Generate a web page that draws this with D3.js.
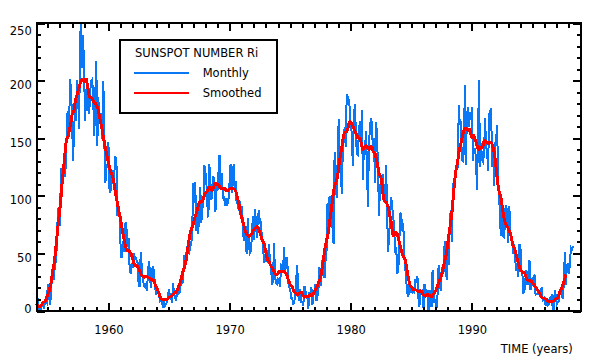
<!DOCTYPE html>
<html><head><meta charset="utf-8">
<script src="https://cdn.jsdelivr.net/npm/d3@7"></script>
<style>
html,body{margin:0;padding:0;background:#fff;}
svg{display:block;}
</style></head><body>
<svg id="chart" width="600" height="360"></svg>
<script>
// ---------- DATA ----------
const startYear = 1954;            // first monthly value = Jan 1954
const monthly = [
0.2,0.5,10.9,1.8,0.8,0.2,4.8,8.4,1.5,7.0,9.2,7.6,
23.1,20.8,4.9,11.3,28.9,31.7,26.7,40.7,42.7,58.5,89.2,76.9,
73.6,124.0,118.4,110.7,136.6,116.6,129.1,169.6,173.2,155.3,201.3,192.1,
165.0,130.2,157.4,175.2,164.6,200.7,187.2,158.0,235.8,253.8,210.9,239.4,
202.5,164.9,190.7,196.0,175.3,171.5,191.4,200.2,201.2,181.5,152.3,187.6,
217.4,143.1,185.7,163.3,172.0,168.7,149.6,199.6,145.2,111.4,124.0,125.0,
146.3,106.0,102.2,122.0,119.6,110.2,121.7,134.1,127.2,82.8,89.6,85.6,
57.9,46.1,53.0,61.4,51.0,77.4,70.2,55.9,63.6,37.7,32.6,39.9,
38.7,50.3,45.6,46.4,43.7,42.0,21.8,21.8,51.3,39.5,26.9,23.2,
19.8,24.4,17.1,29.3,43.0,35.9,19.6,33.2,38.8,35.3,23.4,14.9,
15.3,17.7,16.5,8.6,9.5,9.1,3.1,9.3,4.7,6.1,7.4,15.1,
17.5,14.2,11.7,6.8,24.1,15.9,11.9,8.9,16.8,20.1,15.8,17.0,
28.2,24.4,25.3,48.7,45.3,47.7,56.7,51.2,50.2,57.2,57.2,70.4,
110.9,93.6,111.8,69.5,86.5,67.3,91.5,107.2,76.8,88.2,94.3,126.4,
121.8,111.9,92.2,81.2,127.2,110.3,96.1,109.3,117.2,107.7,86.0,109.8,
104.4,120.5,135.8,106.8,120.0,106.0,96.8,98.0,91.3,95.7,93.5,97.9,
111.5,127.8,102.9,109.5,127.5,106.8,112.5,93.0,99.5,86.6,95.2,83.5,
91.3,79.0,60.7,71.8,57.5,49.8,81.0,61.4,50.2,51.7,63.2,82.2,
61.5,88.4,80.1,63.2,80.5,88.0,76.5,76.8,64.0,61.3,41.6,45.3,
43.4,42.9,46.0,57.7,42.4,39.5,23.1,25.6,59.3,30.7,23.9,23.3,
27.6,26.0,21.3,40.3,39.5,36.0,55.8,33.6,40.2,47.1,25.0,20.5,
18.9,11.5,11.5,5.1,9.0,11.4,28.2,39.7,13.9,9.1,19.4,7.8,
8.1,4.3,21.9,18.8,12.4,12.2,1.9,16.4,13.5,20.6,5.2,15.3,
16.4,23.1,8.7,12.9,18.6,38.5,21.4,30.1,44.0,43.8,29.1,43.2,
51.9,93.6,76.5,99.7,82.7,95.1,70.4,58.1,138.2,125.1,97.9,122.7,
166.6,137.5,138.0,101.5,134.4,149.5,159.4,142.2,188.4,186.2,183.3,176.3,
159.6,155.0,126.2,164.1,179.9,157.3,136.3,135.4,155.0,164.7,147.9,174.4,
114.0,141.3,135.5,156.4,127.5,90.0,143.8,158.7,167.3,162.4,137.5,150.1,
111.2,163.6,153.8,122.0,82.2,110.4,106.1,107.6,118.8,94.7,98.1,127.0,
84.3,51.0,66.5,80.7,99.2,91.1,82.2,71.8,50.3,55.8,33.3,33.4,
57.0,85.4,83.5,69.7,76.4,46.1,37.4,25.5,15.7,12.0,22.8,18.7,
16.5,15.9,17.2,16.2,27.5,24.2,30.7,11.1,3.9,18.6,16.2,17.3,
2.5,23.2,15.1,18.5,13.7,1.1,18.1,7.4,3.8,35.4,15.2,6.8,
10.4,2.4,14.7,39.6,33.0,17.4,33.0,38.7,33.9,60.6,39.9,27.1,
59.0,40.0,76.2,88.0,60.1,101.8,113.8,111.6,120.1,125.1,125.1,179.2,
161.3,165.1,131.4,130.6,138.5,196.2,126.9,168.9,176.7,159.4,173.0,165.5,
177.3,130.5,140.3,140.3,132.2,105.4,149.4,200.3,125.2,145.5,131.4,129.7,
136.9,167.5,141.9,140.0,121.3,169.7,173.7,176.3,125.3,144.1,108.2,144.4,
150.0,161.1,106.7,99.8,73.8,65.2,85.7,64.5,63.9,88.7,91.8,82.6,
59.3,91.0,69.8,62.2,61.3,49.8,57.9,42.4,35.9,37.5,30.0,58.1,
55.8,35.5,31.7,16.1,17.8,28.0,35.1,22.5,25.7,44.0,18.0,26.2,
24.2,29.9,31.1,14.0,14.5,15.6,14.5,14.3,11.8,21.1,9.0,10.0,
11.5,4.4,9.2,4.8,5.5,11.8,8.2,14.4,1.6,0.9,17.9,13.3,
5.7,7.6,8.7,15.5,18.5,12.7,10.4,24.4,51.3,22.8,39.0,41.2,
31.9,40.3,54.8,53.4,56.3
];
const smoothed = [
6.5,5.7,4.3,3.5,3.8,4.3,5.5,7.3,7.8,8.0,9.5,12.0,
14.3,16.5,19.6,23.5,29.0,35.2,40.2,46.6,55.6,64.5,73.2,81.2,
89.0,98.6,109.4,118.8,127.5,137.0,145.5,149.6,151.5,155.8,159.6,164.3,
170.2,172.1,174.2,181.0,185.5,187.9,191.4,194.5,197.3,199.6,200.9,200.1,
199.1,201.0,201.3,196.8,191.4,186.8,185.3,184.9,183.8,182.2,180.7,180.5,
178.6,176.9,174.6,169.3,165.2,161.4,155.8,151.3,146.3,141.0,137.2,132.5,
128.9,125.0,121.5,119.6,117.0,114.0,108.7,102.5,98.0,93.4,88.0,83.7,
80.2,74.8,68.9,64.4,60.1,55.8,53.1,52.5,52.4,51.5,50.5,48.8,
45.3,41.9,40.0,39.5,39.3,38.4,36.9,35.0,32.7,30.8,30.0,29.8,
29.4,29.8,29.8,29.0,28.7,28.2,27.6,27.2,26.9,26.1,23.9,21.4,
19.5,17.8,15.4,12.8,10.9,10.3,10.4,10.3,10.0,9.7,10.2,11.0,
11.7,12.1,12.6,13.7,14.6,15.1,15.6,16.4,17.4,19.7,22.3,24.5,
27.7,31.3,34.5,37.4,40.6,44.5,50.2,56.6,63.1,67.6,70.3,72.8,
75.0,78.8,82.3,84.7,87.5,91.4,94.2,95.4,95.3,95.0,97.1,100.5,
102.5,102.8,104.5,107.0,107.5,106.5,105.1,104.7,106.9,109.8,110.6,110.2,
110.0,109.6,108.1,106.5,106.3,106.2,106.0,106.6,105.5,104.3,104.8,105.1,
105.8,106.3,106.5,106.5,106.1,105.6,104.1,101.2,97.4,94.1,89.6,84.3,
80.6,77.9,74.5,71.0,68.2,66.8,65.5,64.6,65.8,66.2,66.8,69.3,
70.8,71.3,72.5,73.5,73.0,70.5,68.2,65.5,62.3,60.6,58.8,55.2,
50.9,46.5,44.2,42.8,40.8,39.1,37.5,36.2,34.5,32.7,31.8,31.6,
32.8,34.5,34.0,33.9,34.6,34.6,34.1,33.2,32.2,30.4,27.6,25.3,
23.1,22.2,21.3,18.7,16.8,16.0,15.0,14.3,14.3,15.3,16.0,16.2,
15.2,13.1,12.1,12.6,12.5,12.2,12.8,14.0,14.2,13.4,13.5,14.9,
16.8,18.2,20.0,22.2,24.2,26.3,29.0,33.5,39.3,45.7,52.0,57.0,
61.4,64.6,69.7,77.0,83.2,89.4,97.5,104.2,108.5,111.2,113.4,117.8,
123.8,131.0,136.6,141.2,147.3,153.0,155.0,155.4,155.6,157.7,162.2,164.4,
163.7,162.5,160.8,158.5,156.2,154.7,152.7,150.2,150.0,150.1,147.6,142.6,
140.2,141.5,143.0,143.4,142.8,141.4,140.3,141.1,142.8,142.2,138.8,137.8,
137.0,133.3,129.2,124.4,119.9,117.3,115.2,109.4,101.0,95.7,94.7,94.6,
92.8,90.3,86.0,81.5,77.1,70.5,65.5,65.8,67.9,68.1,66.7,63.9,
60.1,56.3,53.0,49.8,47.5,46.5,44.3,39.7,34.0,29.0,24.8,21.8,
20.7,19.8,18.7,18.5,18.5,18.1,17.4,17.1,17.3,17.4,16.9,15.4,
13.9,13.2,13.0,13.7,14.3,13.8,13.7,13.1,12.3,13.1,14.8,16.3,
17.5,19.5,22.1,24.4,26.5,28.4,31.3,34.9,39.0,43.6,46.7,51.4,
58.3,64.7,71.3,77.6,83.8,93.7,104.3,113.7,121.2,125.3,130.4,137.6,
142.0,145.0,149.7,153.5,156.9,158.4,158.5,157.8,156.7,157.5,157.5,153.5,
150.6,152.8,151.9,149.2,146.9,143.7,140.5,140.4,142.0,142.1,141.6,143.9,
147.6,147.7,146.7,146.6,145.5,145.2,146.3,146.5,144.8,141.7,138.0,131.7,
123.7,115.4,108.2,103.4,100.4,97.2,90.9,84.2,79.7,76.6,74.5,73.3,
71.5,69.4,67.3,64.0,59.3,55.6,54.5,52.0,48.2,44.7,41.0,38.3,
36.4,34.6,33.4,33.3,33.0,31.2,28.5,26.9,26.6,26.5,26.3,25.7,
24.3,23.1,22.2,20.6,19.3,18.3,17.1,15.5,13.5,12.2,11.5,10.9,
10.5,10.2,9.8,8.5,8.0,8.5,8.4,8.3,8.5,9.0,10.0,10.5,
10.7,11.2,13.6,16.6,18.4,20.4,22.7,25.1,28.3,31.8
];
const xDomain = [1954, 1999];
const yDomain = [0, 250];
const xMajorTicks = [1960, 1970, 1980, 1990];
const yMajorTicks = [0, 50, 100, 150, 200, 250];
const legendTitle = "SUNSPOT NUMBER Ri";
const seriesNames = ["Monthly", "Smoothed"];
const xAxisTitle = "TIME (years)";

// ---------- STYLE / LAYOUT ----------
const FONT = '"DejaVu Sans", Verdana, sans-serif';
const FS = 11.5;
const BLUE = "#0a78f5", RED = "#ff0000";
const fl = 36.7, fr = 581.3, ft = 23.3, fb = 311;   // frame lines

const svg = d3.select("#chart");
svg.append("rect").attr("width", 600).attr("height", 360).attr("fill", "#fff");

const x = d3.scaleLinear().domain(xDomain).range([35.7, 581]);
const y = d3.scaleLinear().domain(yDomain).range([311, 23]);

const xMinor = d3.range(xDomain[0] + 1, xDomain[1]).filter(v => !xMajorTicks.includes(v));
const yMinor = d3.range(10, yDomain[1], 10).filter(v => !yMajorTicks.includes(v));

svg.append("defs").append("clipPath").attr("id", "clip")
  .append("rect").attr("x", 30).attr("y", ft).attr("width", 560).attr("height", 320);

const tAt = i => startYear + i / 12;
const line = d3.line().x((d, i) => x(tAt(i))).y(d => y(d));

const plot = svg.append("g").attr("clip-path", "url(#clip)");
plot.append("path").datum(monthly).attr("d", line)
  .attr("fill", "none").attr("stroke", BLUE).attr("stroke-width", 2)
  .attr("shape-rendering", "crispEdges");
plot.append("path").datum(smoothed).attr("d", line)
  .attr("fill", "none").attr("stroke", RED).attr("stroke-width", 3)
  .attr("stroke-linejoin", "round").attr("shape-rendering", "crispEdges");

// ---------- AXES ----------
function styleAxis(g) {
  g.select(".domain").remove();
  g.selectAll("line").attr("stroke", "#000").attr("stroke-width", 2)
    .attr("shape-rendering", "crispEdges");
  g.attr("font-family", FONT).attr("font-size", FS);
  g.selectAll("text").attr("fill", "#000");
}
const MAJ = 8, MIN = 4.5;
svg.append("g").attr("transform", `translate(0,${fb})`)
  .call(d3.axisBottom(x).tickValues(xMajorTicks).tickSizeInner(-MAJ).tickSizeOuter(0)
        .tickPadding(0).tickFormat(d3.format("d")))
  .call(styleAxis)
  .call(g => g.selectAll("text").attr("dy", null).attr("y", 23));
svg.append("g").attr("transform", `translate(0,${fb})`)
  .call(d3.axisBottom(x).tickValues(xMinor).tickSizeInner(-MIN).tickSizeOuter(0).tickFormat(""))
  .call(styleAxis);
svg.append("g").attr("transform", `translate(0,${ft})`)
  .call(d3.axisTop(x).tickValues(xMajorTicks).tickSizeInner(-MAJ).tickSizeOuter(0).tickFormat(""))
  .call(styleAxis);
svg.append("g").attr("transform", `translate(0,${ft})`)
  .call(d3.axisTop(x).tickValues(xMinor).tickSizeInner(-MIN).tickSizeOuter(0).tickFormat(""))
  .call(styleAxis);
svg.append("g").attr("transform", `translate(${fl},0)`)
  .call(d3.axisLeft(y).tickValues(yMajorTicks).tickSizeInner(-MAJ).tickSizeOuter(0)
        .tickPadding(5).tickFormat(d3.format("d")))
  .call(styleAxis)
  .call(g => g.selectAll("text").attr("dy", null)
    .attr("y", d => d === yDomain[1] ? 11 : d === yDomain[0] ? 1.3 : 8));
svg.append("g").attr("transform", `translate(${fl},0)`)
  .call(d3.axisLeft(y).tickValues(yMinor).tickSizeInner(-MIN).tickSizeOuter(0).tickFormat(""))
  .call(styleAxis);
svg.append("g").attr("transform", `translate(${fr},0)`)
  .call(d3.axisRight(y).tickValues(yMajorTicks).tickSizeInner(-MAJ).tickSizeOuter(0).tickFormat(""))
  .call(styleAxis);
svg.append("g").attr("transform", `translate(${fr},0)`)
  .call(d3.axisRight(y).tickValues(yMinor).tickSizeInner(-MIN).tickSizeOuter(0).tickFormat(""))
  .call(styleAxis);

svg.append("rect").attr("x", fl).attr("y", ft).attr("width", fr - fl).attr("height", fb - ft)
  .attr("fill", "none").attr("stroke", "#000").attr("stroke-width", 2)
  .attr("shape-rendering", "crispEdges");

svg.append("text").attr("x", 572.7).attr("y", 353.3).attr("text-anchor", "end")
  .attr("font-family", FONT).attr("font-size", FS).attr("fill", "#000").text(xAxisTitle);

// ---------- LEGEND ----------
const lg = svg.append("g");
lg.append("rect").attr("x", 120.3).attr("y", 40.3).attr("width", 157).attr("height", 73)
  .attr("fill", "#fff").attr("stroke", "#000").attr("stroke-width", 2)
  .attr("shape-rendering", "crispEdges");
lg.append("text").attr("x", 135).attr("y", 57.3).attr("font-family", FONT).attr("font-size", FS)
  .attr("fill", "#000").text(legendTitle);
const legColors = [BLUE, RED];
seriesNames.forEach((name, i) => {
  const yy = 73.3 + i * 20;
  lg.append("line").attr("x1", 134).attr("x2", 188.7).attr("y1", yy).attr("y2", yy)
    .attr("stroke", legColors[i]).attr("stroke-width", 2).attr("shape-rendering", "crispEdges");
  lg.append("text").attr("x", 202.7).attr("y", yy + 4.1).attr("font-family", FONT)
    .attr("font-size", FS).attr("fill", "#000").text(name);
});
</script>
</body></html>
